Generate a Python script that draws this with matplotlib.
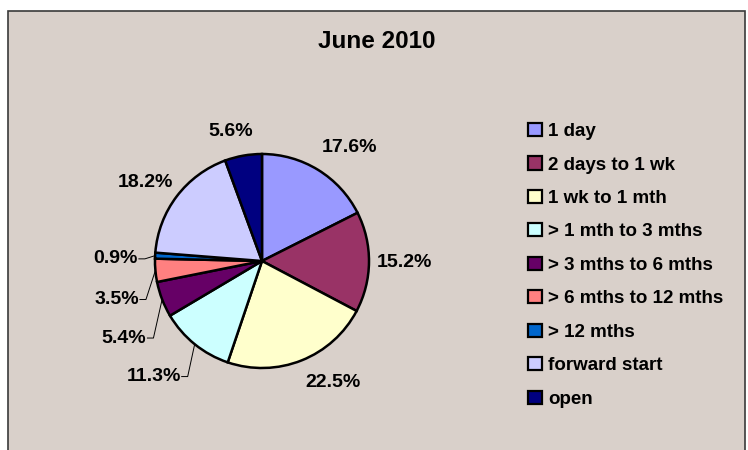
import matplotlib.pyplot as plt
from matplotlib.patches import Rectangle, Patch
import numpy as np

# data
categories = ['1 day', '2 days to 1 wk', '1 wk to 1 mth', '> 1 mth to 3 mths',
              '> 3 mths to 6 mths', '> 6 mths to 12 mths', '> 12 mths',
              'forward start', 'open']
shares = [17.6, 15.2, 22.5, 11.3, 5.4, 3.5, 0.9, 18.2, 5.6]
colors = ['#9999FF', '#993366', '#FFFFCC', '#CCFFFF', '#660066',
          '#FF8080', '#0066CC', '#CCCCFF', '#000080']

# label placement in pie-radius units (x, y, has leader line)
label_pos = [(0.82, 1.06, False), (1.33, -0.01, False), (0.66, -1.14, False),
             (-0.76, -1.08, True), (-1.08, -0.72, True), (-1.15, -0.36, True),
             (-1.16, 0.02, True), (-1.09, 0.73, False), (-0.29, 1.21, False)]

plt.rcParams['font.family'] = ['Liberation Sans', 'DejaVu Sans']
bg = '#D9D0CA'

fig = plt.figure(figsize=(7.48, 4.5), dpi=100, facecolor='white')
ax = fig.add_axes([0, 0, 1, 1])

# chart area panel
ax.add_patch(Rectangle((8.5, -20), 737, 459.5, facecolor=bg, edgecolor='#3a3a3a', lw=1.2, zorder=0))

ax.text(377, 450 - 42, 'June 2010', ha='center', va='center', fontsize=17.5, fontweight='bold')

cx, cy, R = 262, 450 - 261, 107
wedges, _ = ax.pie(shares, colors=colors, startangle=90, counterclock=False,
                   center=(cx, cy), radius=R, frame=True,
                   wedgeprops=dict(edgecolor='black', linewidth=1.8))
ax.set_xlim(0, 748)
ax.set_ylim(0, 450)
ax.set_aspect('equal')
ax.axis('off')

for w, v, (lx, ly, lead) in zip(wedges, shares, label_pos):
    tx, ty = cx + lx * R, cy + ly * R
    if lead:
        ang = np.deg2rad((w.theta1 + w.theta2) / 2)
        ex, ey = cx + R * np.cos(ang), cy + R * np.sin(ang)
        ax.plot([tx + 1, tx + 7, ex], [ty, ty, ey], color='black', lw=0.7, zorder=3)
        ax.text(tx, ty, f'{v:.1f}%', ha='right', va='center', fontsize=14, fontweight='bold')
    else:
        ax.text(tx, ty, f'{v:.1f}%', ha='center', va='center', fontsize=14, fontweight='bold')

handles = [Patch(facecolor=c, edgecolor='black', linewidth=1.6) for c in colors]
leg = ax.legend(handles, categories, loc='upper left', bbox_to_anchor=(528 / 748, 1 - 123 / 450),
                frameon=False, fontsize=13.5, handlelength=0.72, handleheight=0.7,
                handletextpad=0.35, labelspacing=0.87, borderpad=0, borderaxespad=0)
for t in leg.get_texts():
    t.set_fontweight('bold')

fig.savefig('out.png', dpi=100, facecolor='white')
